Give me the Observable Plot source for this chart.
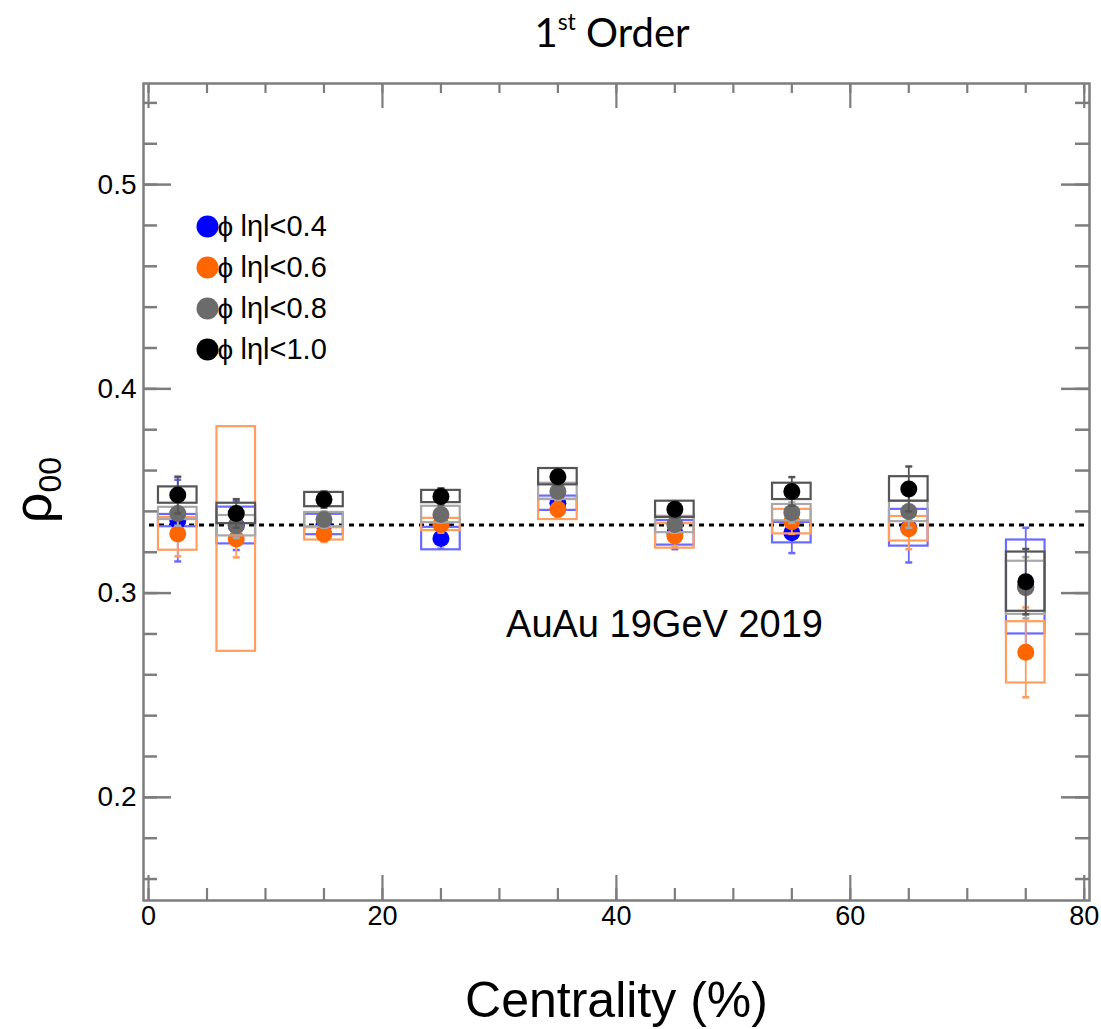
<!DOCTYPE html>
<html><head><meta charset="utf-8">
<script src="https://cdn.jsdelivr.net/npm/d3@7"></script>
<script src="https://cdn.jsdelivr.net/npm/@observablehq/plot@0.6"></script>
<style>
body{margin:0;background:#fff;}
#wrap{position:relative;width:1101px;height:1029px;overflow:hidden;}
#wrap svg{display:block;position:absolute;left:0;top:0;}
.title{position:absolute;top:8px;left:612px;transform:translateX(-50%);font-family:Lato,'Open Sans',sans-serif;font-size:40px;white-space:nowrap;color:#000;}
.title sup{font-size:23px;vertical-align:17px;line-height:0;}
.ylab{position:absolute;left:32px;top:490px;transform:translate(-50%,-50%) rotate(-90deg);font-family:'Liberation Sans',Arial,sans-serif;font-size:54px;white-space:nowrap;color:#000;}
.ylab sub{font-size:32px;vertical-align:-10px;line-height:0;}
</style>
</head><body>
<div id="wrap">
  <div class="title">1<sup>st</sup> Order</div>
  <div class="ylab">ρ<sub>00</sub></div>
</div>
<script>
// ---- data ----
const centrality = [2.5, 7.5, 15, 25, 35, 45, 55, 65, 75];
const seriesNames = ["lηl<0.4", "lηl<0.6", "lηl<0.8", "lηl<1.0"];
const seriesColors = ["#0000ff", "#ff6600", "#6b6b6b", "#000000"];
const boxColors = ["#6a6aff", "#ff9e5e", "#a8a8a8", "#555555"];

const valEta04 = [0.3355, 0.3331, 0.3336, 0.3267, 0.3440, 0.3295, 0.3296, 0.3320, 0.3030];
const statEta04 = [0.020, 0.012, 0.006, 0.005, 0.006, 0.008, 0.010, 0.017, 0.029];
const sysEta04 = [0.003, 0.009, 0.005, 0.0055, 0.0035, 0.006, 0.005, 0.009, 0.023];

const valEta06 = [0.3290, 0.3265, 0.3290, 0.3336, 0.3410, 0.3280, 0.3350, 0.3315, 0.2710];
const statEta06 = [0.011, 0.009, 0.004, 0.004, 0.004, 0.005, 0.006, 0.010, 0.022];
const sysEta06 = [0.008, 0.055, 0.003, 0.003, 0.005, 0.006, 0.006, 0.006, 0.015];

const valEta08 = [0.3390, 0.3330, 0.3360, 0.3385, 0.3498, 0.3336, 0.3394, 0.3400, 0.3026];
const statEta08 = [0.006, 0.006, 0.004, 0.004, 0.004, 0.004, 0.005, 0.008, 0.015];
const sysEta08 = [0.003, 0.005, 0.0035, 0.004, 0.004, 0.004, 0.004, 0.005, 0.013];

const valEta10 = [0.3480, 0.3390, 0.3458, 0.3473, 0.3570, 0.3410, 0.3498, 0.3510, 0.3056];
const statEta10 = [0.009, 0.007, 0.004, 0.004, 0.004, 0.004, 0.007, 0.011, 0.016];
const sysEta10 = [0.004, 0.005, 0.0035, 0.003, 0.004, 0.004, 0.004, 0.006, 0.0145];

const referenceLine = 1 / 3;
const xMajorTicks = [0, 20, 40, 60, 80];
const xMinorTicks = d3.range(0, 81, 5);
const yMajorTicks = [0.2, 0.3, 0.4, 0.5];
const yMinorTicks = d3.range(0.16, 0.545, 0.02);
const annotation = "AuAu 19GeV 2019";
const xLabel = "Centrality (%)";

// ---- build ----
const vals = [valEta04, valEta06, valEta08, valEta10];
const stats = [statEta04, statEta06, statEta08, statEta10];
const syss = [sysEta04, sysEta06, sysEta08, sysEta10];

const W = 1101, H = 1029;
const mL = 143, mR = 12, mT = 83, mB = 129;
const fw = W - mL - mR, fh = H - mT - mB;
const axisGray = "#7d7d7d";
const boxHalf = 1.65;
const capSymbol = {draw(ctx) { ctx.moveTo(-3.5, 0); ctx.lineTo(3.5, 0); }};

const seriesMarks = seriesNames.flatMap((name, s) => {
  const rows = centrality.map((c, i) => ({c, v: vals[s][i], stat: stats[s][i], sys: syss[s][i]}));
  return [
    Plot.rect(rows, {x1: d => d.c - boxHalf, x2: d => d.c + boxHalf, y1: d => d.v - d.sys, y2: d => d.v + d.sys,
      fill: "none", stroke: boxColors[s], strokeWidth: 2.2}),
    Plot.ruleX(rows, {x: "c", y1: d => d.v - d.stat, y2: d => d.v + d.stat, stroke: boxColors[s], strokeWidth: 1.8}),
    Plot.dot(rows, {x: "c", y: d => d.v - d.stat, symbol: capSymbol, stroke: boxColors[s], strokeWidth: 2.5, r: 4}),
    Plot.dot(rows, {x: "c", y: d => d.v + d.stat, symbol: capSymbol, stroke: boxColors[s], strokeWidth: 2.5, r: 4}),
    Plot.dot(rows, {x: "c", y: "v", r: 8.5, fill: seriesColors[s], stroke: "none"})
  ];
});

const legendMarks = seriesNames.flatMap((name, s) => [
  Plot.dot([name], {frameAnchor: "top-left", dx: 64, dy: 143 + 41 * s, r: 11, fill: seriesColors[s]}),
  Plot.text(["ϕ"], {frameAnchor: "top-left", dx: 74, dy: 144 + 41 * s, lineAnchor: "middle", textAnchor: "start", fontSize: 28, fill: "#000"}),
  Plot.text([name], {frameAnchor: "top-left", dx: 97, dy: 143 + 41 * s, lineAnchor: "middle", textAnchor: "start", fontSize: 29, fill: "#000"})
]);

const chart = Plot.plot({
  width: W, height: H,
  marginLeft: mL, marginRight: mR, marginTop: mT, marginBottom: mB,
  style: {fontFamily: "'Liberation Sans', Arial, sans-serif", background: "transparent", color: "#000"},
  x: {domain: [-0.43, 80.45]},
  y: {domain: [0.1495, 0.5495]},
  marks: [
    Plot.ruleY([referenceLine], {stroke: "#000", strokeWidth: 3, strokeDasharray: "5,5", insetLeft: 6, insetRight: 4}),
    ...seriesMarks,
    // ticks inside the frame
    Plot.tickY(yMinorTicks, {y: d => d, insetRight: fw - 14, stroke: axisGray, strokeWidth: 2.5}),
    Plot.tickY(yMajorTicks, {y: d => d, insetRight: fw - 28, stroke: axisGray, strokeWidth: 2.5}),
    Plot.tickY(yMinorTicks, {y: d => d, insetLeft: fw - 14, stroke: axisGray, strokeWidth: 2.5}),
    Plot.tickY(yMajorTicks, {y: d => d, insetLeft: fw - 28, stroke: axisGray, strokeWidth: 2.5}),
    Plot.tickX(xMinorTicks, {x: d => d, insetTop: fh - 12, stroke: axisGray, strokeWidth: 2.2}),
    Plot.tickX(xMajorTicks, {x: d => d, insetTop: fh - 25, stroke: axisGray, strokeWidth: 2.2}),
    Plot.tickX(xMinorTicks, {x: d => d, insetBottom: fh - 10, stroke: axisGray, strokeWidth: 2.2}),
    Plot.tickX(xMajorTicks, {x: d => d, insetBottom: fh - 25, stroke: axisGray, strokeWidth: 2.2}),
    Plot.frame({stroke: axisGray, strokeWidth: 2.5}),
    Plot.axisY({ticks: yMajorTicks, tickSize: 0, tickPadding: 7, fontSize: 28, tickFormat: d3.format(".1f"), label: null}),
    Plot.axisX({ticks: xMajorTicks, tickSize: 0, tickPadding: 5, fontSize: 27, tickFormat: d3.format("d"), label: null}),
    ...legendMarks,
    Plot.text([annotation], {frameAnchor: "top-left", dx: 521, dy: 541, lineAnchor: "middle", textAnchor: "middle", fontSize: 38, fill: "#000"}),
    Plot.text([xLabel], {frameAnchor: "bottom", dy: 100, lineAnchor: "middle", fontSize: 50, fill: "#000"})
  ]
});
document.getElementById("wrap").prepend(chart);
</script>
</body></html>
